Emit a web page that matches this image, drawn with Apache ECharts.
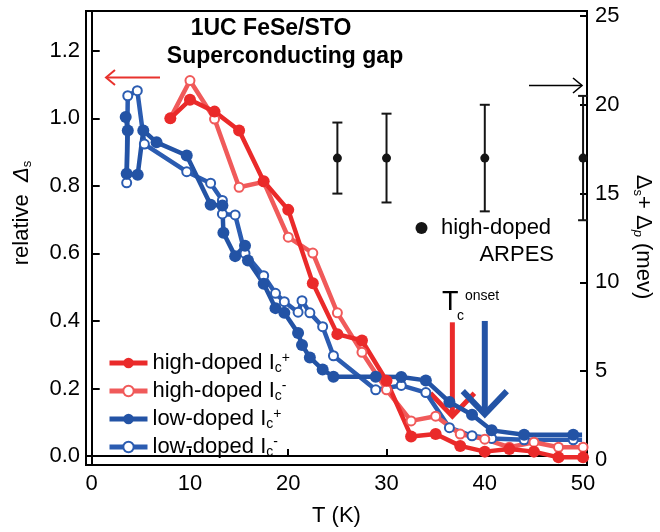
<!DOCTYPE html>
<html>
<head>
<meta charset="utf-8">
<script src="https://cdn.jsdelivr.net/npm/echarts@6/dist/echarts.min.js"></script>
<style>
  html, body { margin: 0; padding: 0; background: #fff; }
  #chart { width: 660px; height: 532px; }
</style>
</head>
<body>
<div id="chart"></div>
<script>
  // temperature grid of the high-doped runs (K)
  const hiTemps = [8, 10, 12.5, 15, 17.5, 20, 22.5, 25, 27.5, 30, 32.5, 35, 37.5, 40, 42.5, 45, 47.5, 50];
  const hiPlus  = [1.00, 1.055, 1.02, 0.964, 0.814, 0.729, 0.512, 0.361, 0.342, 0.223, 0.058, 0.065, 0.03, 0.013, 0.021, 0.013, -0.004, -0.004];
  const hiMinus = [1.00, 1.112, 0.998, 0.796, 0.812, 0.648, 0.601, 0.424, 0.307, 0.196, 0.104, 0.118, 0.065, 0.05, 0.026, 0.041, 0.026, 0.026];

  // low-doped runs, own temperature points
  const lowPlusT = [3.46, 3.67, 3.56, 4.68, 5.25, 6.6, 9.67, 12.1, 13.3, 13.4, 14.6, 15.6, 15.9, 17.5, 18.7, 19.6, 21.0, 21.4, 22.2, 23.5, 24.6, 28.9, 31.5, 34.0, 36.4, 38.7, 40.7, 44.0, 49.0, 49.9];
  const lowPlus  = [1.004, 0.964, 0.836, 0.833, 0.964, 0.929, 0.89, 0.744, 0.742, 0.661, 0.592, 0.623, 0.579, 0.51, 0.438, 0.424, 0.364, 0.329, 0.292, 0.256, 0.235, 0.235, 0.234, 0.224, 0.16, 0.122, 0.076, 0.063, 0.063, 0.063];
  const lowMinusT = [3.56, 3.67, 4.64, 5.36, 9.67, 12.1, 13.3, 13.3, 14.6, 15.6, 17.5, 18.7, 19.6, 21.0, 21.4, 22.2, 23.5, 24.6, 28.9, 31.5, 34.0, 36.4, 38.7, 40.7, 44.0, 49.0, 49.9];
  const lowMinus  = [0.809, 1.067, 1.082, 0.924, 0.842, 0.808, 0.757, 0.717, 0.714, 0.6, 0.534, 0.482, 0.457, 0.426, 0.46, 0.424, 0.383, 0.297, 0.196, 0.209, 0.188, 0.084, 0.06, 0.052, 0.048, 0.048, 0.048];

  // ARPES gap (meV, right axis)
  const arpesT   = [25, 30, 40, 50];
  const arpesGap = [17, 17, 17, 17];
  const arpesErr = [2, 2.5, 3, 3.5];

  // Tc onset arrows: temperature, tip and top (left axis units)
  const onsetT   = [36.7, 40.0];
  const onsetTip = [0.118, 0.124];
  const onsetTop = [0.396, 0.40];

  const xTicks  = [0, 10, 20, 30, 40, 50];
  const yTicks  = [0, 0.2, 0.4, 0.6, 0.8, 1.0, 1.2];
  const y2Ticks = [0, 5, 10, 15, 20, 25];

  const RED = '#ea2a2a', RED_L = '#f05a5a', BLUE = '#2353a5', BLUE_L = '#2b5cb1';
  const FONT = '"Liberation Sans", Arial, sans-serif';

  function zip(xs, ys, lastBare) {
    return xs.map((x, i) => {
      if (lastBare && i === xs.length - 1) return { value: [x, ys[i]], symbol: 'none' };
      return [x, ys[i]];
    });
  }

  function lineSeries(name, color, data, open) {
    return {
      type: 'line',
      name: name,
      data: data,
      symbol: 'circle',
      symbolSize: open ? 9 : 12,
      showAllSymbol: true,
      lineStyle: { color: color, width: 4.5 },
      itemStyle: open
        ? { color: '#fff', borderColor: color, borderWidth: 2 }
        : { color: color, borderColor: color, borderWidth: 0 },
      emphasis: { disabled: true },
      animation: false
    };
  }

  const legendRich = {
    t: { fontSize: 22, fontFamily: FONT, color: '#000', lineHeight: 24 },
    c: { fontSize: 14, fontFamily: FONT, color: '#000', verticalAlign: 'bottom', lineHeight: 12 },
    s: { fontSize: 14, fontFamily: FONT, color: '#000', verticalAlign: 'top', lineHeight: 14 }
  };

  const chart = echarts.init(document.getElementById('chart'), null, { renderer: 'canvas' });

  const option = {
    animation: false,
    backgroundColor: '#fff',
    grid: {
      left: 86, right: 73, top: 11, bottom: 66,
      show: true, borderColor: '#000', borderWidth: 2, backgroundColor: 'transparent'
    },
    xAxis: {
      type: 'value',
      min: -0.58, max: 50.4,
      name: 'T (K)',
      nameLocation: 'middle',
      nameGap: 40,
      nameTextStyle: { fontSize: 22, fontFamily: FONT, color: '#000' },
      axisLine: { lineStyle: { color: '#000', width: 2 } },
      axisTick: { inside: true, length: 7, lineStyle: { color: '#000', width: 2 }, customValues: xTicks },
      axisLabel: { fontSize: 22, fontFamily: FONT, color: '#000', margin: 8, customValues: xTicks },
      splitLine: { show: false }
    },
    yAxis: [{
      type: 'value',
      min: -0.0266, max: 1.318,
      axisLine: { show: true, lineStyle: { color: '#000', width: 2 } },
      axisTick: { show: true, inside: true, length: 8, lineStyle: { color: '#000', width: 2 }, customValues: yTicks },
      axisLabel: {
        fontSize: 22, fontFamily: FONT, color: '#000', margin: 6, customValues: yTicks,
        formatter: v => v.toFixed(1)
      },
      splitLine: { show: false }
    }, {
      type: 'value',
      position: 'right',
      min: -0.28, max: 25.28,
      axisLine: { show: true, lineStyle: { color: '#000', width: 2 } },
      axisTick: { show: true, inside: true, length: 7, lineStyle: { color: '#000', width: 2 }, customValues: y2Ticks },
      axisLabel: { fontSize: 22, fontFamily: FONT, color: '#000', margin: 8, customValues: y2Ticks },
      splitLine: { show: false }
    }],
    legend: {
      data: ['high-doped Ic+', 'high-doped Ic-', 'low-doped Ic+', 'low-doped Ic-'],
      orient: 'vertical',
      left: 102, top: 346,
      itemWidth: 38, itemHeight: 13,
      itemGap: 4,
      selectedMode: false,
      lineStyle: { width: 5 },
      textStyle: { rich: legendRich },
      formatter: name => {
        const sign = name.slice(-1);
        const base = name.slice(0, -2);
        return '{t|' + base + '}{c|c}{s|' + sign + '}';
      }
    },
    series: [
      {
        type: 'custom',
        name: 'onset',
        coordinateSystem: 'cartesian2d',
        data: onsetT.map((t, i) => [t, onsetTip[i], onsetTop[i]]),
        renderItem: (params, api) => {
          const tip = api.coord([api.value(0), api.value(1)]);
          const top = api.coord([api.value(0), api.value(2)]);
          const color = params.dataIndex === 0 ? RED : BLUE;
          const w = params.dataIndex === 0 ? 5 : 6;
          return {
            type: 'group',
            children: [
              { type: 'line', shape: { x1: top[0], y1: top[1], x2: tip[0], y2: tip[1] }, style: { stroke: color, lineWidth: w } },
              { type: 'polyline', shape: { points: [[tip[0] - 22, tip[1] - 23], [tip[0], tip[1]], [tip[0] + 22, tip[1] - 23]] },
                style: { stroke: color, lineWidth: w, fill: null, lineJoin: 'miter' } }
            ]
          };
        },
        z: 1,
        silent: true
      },
      lineSeries('low-doped Ic-', BLUE_L, zip(lowMinusT, lowMinus, true), true),
      lineSeries('low-doped Ic+', BLUE, zip(lowPlusT, lowPlus, true), false),
      lineSeries('high-doped Ic-', RED_L, zip(hiTemps, hiMinus, false), true),
      lineSeries('high-doped Ic+', RED, zip(hiTemps, hiPlus, false), false),
      {
        type: 'custom',
        name: 'ARPES',
        yAxisIndex: 1,
        coordinateSystem: 'cartesian2d',
        clip: false,
        data: arpesT.map((t, i) => [t, arpesGap[i], arpesErr[i]]),
        renderItem: (params, api) => {
          const t = api.value(0), g = api.value(1), e = api.value(2);
          const c = api.coord([t, g]);
          const hi = api.coord([t, g + e]);
          const lo = api.coord([t, g - e]);
          const st = { stroke: '#151515', lineWidth: 2 };
          return {
            type: 'group',
            children: [
              { type: 'line', shape: { x1: hi[0], y1: hi[1], x2: lo[0], y2: lo[1] }, style: st },
              { type: 'line', shape: { x1: hi[0] - 5, y1: hi[1], x2: hi[0] + 5, y2: hi[1] }, style: st },
              { type: 'line', shape: { x1: lo[0] - 5, y1: lo[1], x2: lo[0] + 5, y2: lo[1] }, style: st },
              { type: 'circle', shape: { cx: c[0], cy: c[1], r: 4.5 }, style: { fill: '#151515' } }
            ]
          };
        },
        silent: true
      }
    ],
    graphic: [
      { type: 'text', x: 271, y: 29, style: { text: '1UC FeSe/STO', font: 'bold 23px ' + FONT, fill: '#000', align: 'center', verticalAlign: 'middle' } },
      { type: 'text', x: 285, y: 57, style: { text: 'Superconducting gap', font: 'bold 23px ' + FONT, fill: '#000', align: 'center', verticalAlign: 'middle' } },
      // arrow to the left axis
      { type: 'line', shape: { x1: 106, y1: 77.5, x2: 160, y2: 77.5 }, style: { stroke: '#e8322d', lineWidth: 2 } },
      { type: 'polyline', shape: { points: [[115, 70], [106, 77.5], [115, 85]] }, style: { stroke: '#e8322d', lineWidth: 2, fill: null } },
      // arrow to the right axis
      { type: 'line', shape: { x1: 529, y1: 85.5, x2: 582, y2: 85.5 }, style: { stroke: '#000', lineWidth: 1.6 } },
      { type: 'polyline', shape: { points: [[573, 78], [582, 85.5], [573, 93]] }, style: { stroke: '#000', lineWidth: 1.6, fill: null } },
      // ARPES key
      { type: 'circle', shape: { cx: 421.5, cy: 228, r: 6 }, style: { fill: '#151515' } },
      { type: 'text', x: 441, y: 228, style: { text: 'high-doped', font: '22px ' + FONT, fill: '#000', align: 'left', verticalAlign: 'middle' } },
      { type: 'text', x: 554, y: 255, style: { text: 'ARPES', font: '22px ' + FONT, fill: '#000', align: 'right', verticalAlign: 'middle' } },
      // Tc onset label
      { type: 'text', x: 442, y: 303, style: { text: 'T', font: '27px ' + FONT, fill: '#000', align: 'left', verticalAlign: 'middle' } },
      { type: 'text', x: 457, y: 316, style: { text: 'c', font: '14px ' + FONT, fill: '#000', align: 'left', verticalAlign: 'middle' } },
      { type: 'text', x: 465, y: 296, style: { text: 'onset', font: '14px ' + FONT, fill: '#000', align: 'left', verticalAlign: 'middle' } },
      // axis titles
      { type: 'text', x: 22, y: 213, rotation: Math.PI / 2,
        style: {
          text: '{t|relative  }{d|Δ}{s|s}', align: 'center', verticalAlign: 'middle',
          rich: {
            t: { font: '22px ' + FONT, fill: '#000', lineHeight: 24 },
            d: { font: 'italic 22px ' + FONT, fill: '#000', lineHeight: 24 },
            s: { font: '13px ' + FONT, fill: '#000', verticalAlign: 'bottom', lineHeight: 12 }
          }
        } },
      { type: 'text', x: 643, y: 237, rotation: -Math.PI / 2,
        style: {
          text: '{d|Δ}{s|s}{t|+ }{d|Δ}{p|p}{t| (mev)}', align: 'center', verticalAlign: 'middle',
          rich: {
            t: { font: '22px ' + FONT, fill: '#000', lineHeight: 24 },
            d: { font: '22px ' + FONT, fill: '#000', lineHeight: 24 },
            s: { font: '13px ' + FONT, fill: '#000', verticalAlign: 'bottom', lineHeight: 12 },
            p: { font: 'italic 13px ' + FONT, fill: '#000', verticalAlign: 'bottom', lineHeight: 12 }
          }
        } }
    ]
  };

  chart.setOption(option);
  window.addEventListener('resize', function () {
    chart.resize();
  });
</script>
</body>
</html>
